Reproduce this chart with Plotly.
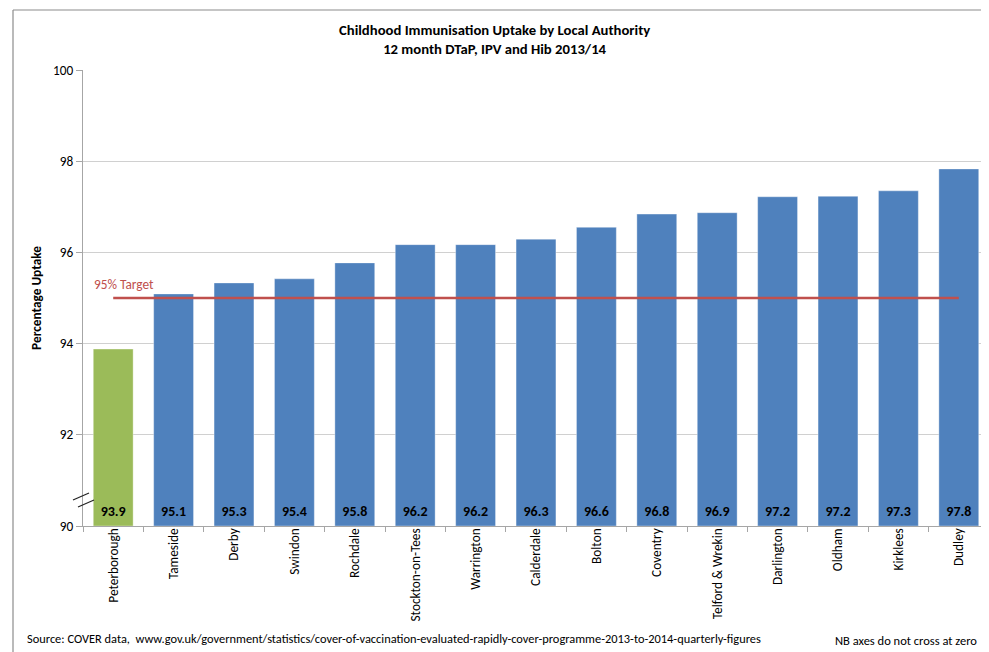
import plotly.graph_objects as go

authorities = ["Peterborough", "Tameside", "Derby", "Swindon", "Rochdale", "Stockton-on-Tees",
               "Warrington", "Calderdale", "Bolton", "Coventry", "Telford & Wrekin",
               "Darlington", "Oldham", "Kirklees", "Dudley"]
uptake = [93.88, 95.09, 95.33, 95.42, 95.77, 96.17, 96.17, 96.29, 96.55, 96.84, 96.87,
          97.22, 97.23, 97.35, 97.83]
value_labels = ["93.9", "95.1", "95.3", "95.4", "95.8", "96.2", "96.2", "96.3", "96.6",
                "96.8", "96.9", "97.2", "97.2", "97.3", "97.8"]
target = 95
y_ticks = [90, 92, 94, 96, 98, 100]

FONT = "Carlito, Liberation Sans, Arial, sans-serif"
colors = ["#9BBB59"] + ["#4F81BD"] * (len(authorities) - 1)

fig = go.Figure()
fig.add_trace(go.Bar(
    x=authorities, y=[v - 90 for v in uptake], base=90,
    marker=dict(color=colors, line=dict(color="rgba(255,255,255,0.35)", width=1)),
    showlegend=False, hoverinfo="skip",
))
# value labels at the bottom of each bar
fig.add_trace(go.Scatter(
    x=authorities, y=[90.3] * len(authorities), mode="text", text=value_labels,
    texttemplate="<b>%{text}</b>", textposition="middle center",
    textfont=dict(family=FONT, size=14, color="#000000"),
    showlegend=False, hoverinfo="skip", cliponaxis=False,
))
# target line
fig.add_trace(go.Scatter(
    x=authorities, y=[target] * len(authorities), mode="lines",
    line=dict(color="#C0504D", width=2.5), showlegend=False, hoverinfo="skip",
))

# page body margin offset in the browser
OFF = 8
W, H = 989 - OFF, 652 - OFF
# desired plot area in screenshot pixels
L_S, T_S, B_S, R_S = 83, 70, 526, 990
ml, mt = L_S - OFF, T_S - OFF
mr = max(0, W - (R_S - OFF))
mb = H - (B_S - OFF)
pw, ph = W - ml - mr, H - mt - mb

def px(x):
    return (x - OFF - ml) / pw

def py(y):
    return (H - mb - (y - OFF)) / ph

frame = dict(color="#8c8c8c", width=1.2)
shapes = [
    # outer chart frame (top and left edges)
    dict(type="line", xref="paper", yref="paper", x0=px(13), x1=px(989), y0=py(10), y1=py(10),
         line=frame, layer="below"),
    dict(type="line", xref="paper", yref="paper", x0=px(13), x1=px(13), y0=py(10), y1=py(652),
         line=frame, layer="below"),
    # axis break marks
    dict(type="line", xref="paper", yref="paper", x0=px(73), y0=py(500), x1=px(89), y1=py(493),
         line=dict(color="#222222", width=1.2)),
    dict(type="line", xref="paper", yref="paper", x0=px(78), y0=py(507), x1=px(94), y1=py(500),
         line=dict(color="#222222", width=1.2)),
]

annotations = [
    dict(text="<b>Childhood Immunisation Uptake by Local Authority</b><br><b>12 month DTaP, IPV and Hib 2013/14</b>",
         xref="paper", yref="paper", x=px(494), y=py(40), xanchor="center", yanchor="middle",
         showarrow=False, font=dict(family=FONT, size=14.7, color="#000000")),
    dict(text="95% Target", xref="x", yref="y", x=authorities[0], y=target, xshift=-21,
         xanchor="left", yanchor="bottom", yshift=3, showarrow=False,
         font=dict(family=FONT, size=13.3, color="#C0504D")),
    dict(text="Source: COVER data,  www.gov.uk/government/statistics/cover-of-vaccination-evaluated-rapidly-cover-programme-2013-to-2014-quarterly-figures",
         xref="paper", yref="paper", x=px(25), y=py(638), xanchor="left", yanchor="middle",
         showarrow=False, font=dict(family=FONT, size=12.4, color="#000000")),
    dict(text="NB axes do not cross at zero", xref="paper", yref="paper", x=px(979), y=py(640),
         xanchor="right", yanchor="middle", showarrow=False,
         font=dict(family=FONT, size=12.5, color="#000000")),
]

fig.update_layout(
    width=W, height=H,
    margin=dict(l=ml, r=mr, t=mt, b=mb, pad=0),
    paper_bgcolor="white", plot_bgcolor="white",
    bargap=0.34,
    shapes=shapes, annotations=annotations,
    font=dict(family=FONT, size=13.3, color="#000000"),
)
fig.update_xaxes(
    type="category", range=[-0.5, len(authorities) - 0.5], tickangle=-90, tickson="boundaries",
    ticks="outside", ticklen=5, ticklabelstandoff=-4,
    tickcolor="#a6a6a6", showline=True, linecolor="#a6a6a6", linewidth=1,
    showgrid=False, tickfont=dict(family=FONT, size=13.3, color="#000000"),
)
fig.update_yaxes(
    range=[90, 100], tickvals=y_ticks, ticks="outside", ticklen=6, tickcolor="#a6a6a6",
    showline=True, linecolor="#a6a6a6", linewidth=1, showgrid=True, gridcolor="#d0d0d0",
    zeroline=False, tickfont=dict(family=FONT, size=13.3, color="#000000"),
    title=dict(text="<b>Percentage Uptake</b>", font=dict(family=FONT, size=13.3), standoff=8),
)

fig.write_html("out.html")
